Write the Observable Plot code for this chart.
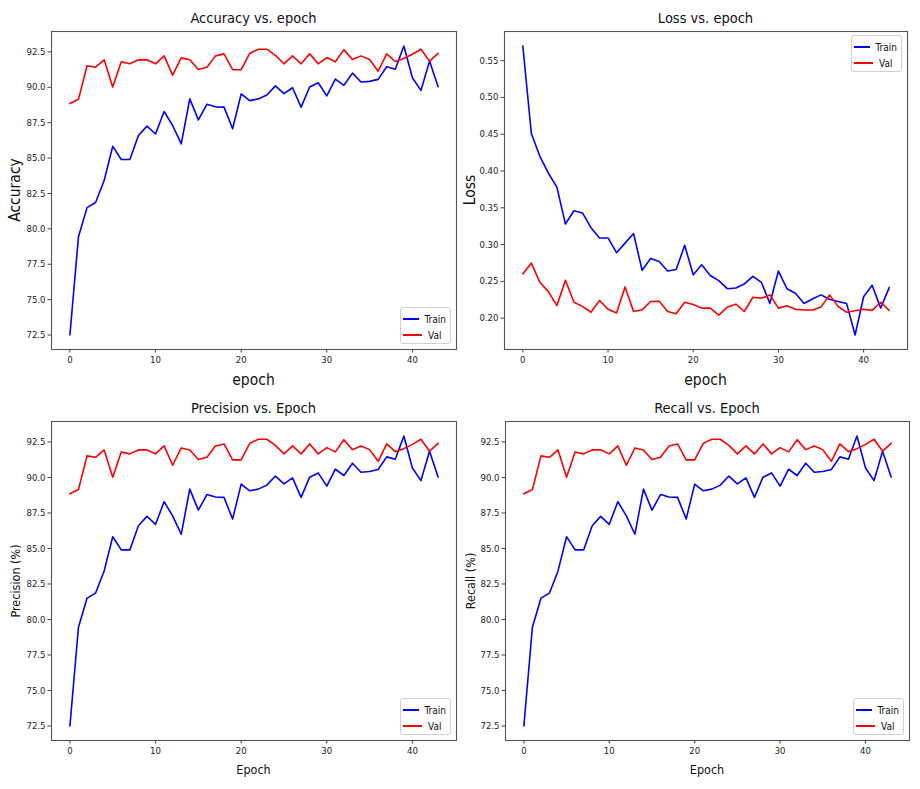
<!DOCTYPE html>
<html>
<head>
<meta charset="utf-8">
<script src="https://cdn.jsdelivr.net/npm/d3@7"></script>
<script src="https://cdn.jsdelivr.net/npm/@observablehq/plot@0.6"></script>
<style>
  html, body { margin: 0; padding: 0; background: #fff; }
  #fig { position: relative; width: 920px; height: 789px; overflow: hidden;
         font-family: "DejaVu Sans Condensed", "DejaVu Sans", sans-serif; font-stretch: condensed; color: #111; }
  .panel { position: absolute; }
  .txt { position: absolute; white-space: nowrap; transform: translate(-50%, -50%); line-height: 1; }
  .rot { transform: translate(-50%, -50%) rotate(-90deg); }
  .legend { position: absolute; border: 1px solid #d0d0d0; border-radius: 3px; background: rgba(255,255,255,0.85);
            font-size: 10px; box-sizing: border-box; padding: 3px 4px 2px 2px; }
  .legend .row { display: flex; align-items: center; height: 16px; }
  .legend .sw { width: 19px; height: 2px; margin-right: 6px; }
</style>
</head>
<body>
<div id="fig"></div>
<script>
// ---- data ----
const accTrain = [72.5, 79.45, 81.5, 81.86, 83.42, 85.83, 84.9, 84.9, 86.6, 87.26, 86.7, 88.29, 87.3, 86.0, 89.18, 87.7, 88.8, 88.62, 88.6, 87.07, 89.53, 89.06, 89.18, 89.46, 90.1, 89.55, 89.97, 88.6, 90.02, 90.32, 89.39, 90.58, 90.14, 91.0, 90.37, 90.42, 90.56, 91.45, 91.28, 92.92, 90.67, 89.78, 91.85, 90.04];
const accVal = [88.85, 89.15, 91.52, 91.42, 91.94, 90.02, 91.8, 91.66, 91.94, 91.94, 91.66, 92.22, 90.86, 92.08, 91.94, 91.26, 91.42, 92.22, 92.36, 91.24, 91.24, 92.4, 92.69, 92.69, 92.26, 91.66, 92.22, 91.66, 92.36, 91.66, 92.1, 91.8, 92.66, 91.96, 92.22, 91.96, 91.14, 92.36, 91.82, 92.03, 92.33, 92.69, 91.85, 92.4];
const lossTrain = [0.570, 0.451, 0.420, 0.397, 0.378, 0.328, 0.346, 0.343, 0.323, 0.309, 0.309, 0.289, 0.302, 0.315, 0.265, 0.281, 0.277, 0.264, 0.266, 0.299, 0.259, 0.2725, 0.258, 0.251, 0.240, 0.241, 0.2465, 0.2568, 0.2487, 0.220, 0.264, 0.240, 0.2338, 0.220, 0.226, 0.2316, 0.2257, 0.2226, 0.220, 0.177, 0.229, 0.2446, 0.2136, 0.2415];
const lossVal = [0.260, 0.2748, 0.2487, 0.236, 0.217, 0.2514, 0.2216, 0.216, 0.208, 0.224, 0.212, 0.207, 0.2424, 0.209, 0.2113, 0.2226, 0.223, 0.209, 0.206, 0.2216, 0.2186, 0.2136, 0.2136, 0.204, 0.215, 0.219, 0.209, 0.2284, 0.227, 0.2316, 0.2136, 0.2167, 0.212, 0.211, 0.211, 0.215, 0.2316, 0.216, 0.208, 0.21, 0.212, 0.2105, 0.2216, 0.2105];
// precision and recall curves are drawn identical to accuracy in the reference
const precTrain = [72.5, 79.45, 81.5, 81.86, 83.42, 85.83, 84.9, 84.9, 86.6, 87.26, 86.7, 88.29, 87.3, 86.0, 89.18, 87.7, 88.8, 88.62, 88.6, 87.07, 89.53, 89.06, 89.18, 89.46, 90.1, 89.55, 89.97, 88.6, 90.02, 90.32, 89.39, 90.58, 90.14, 91.0, 90.37, 90.42, 90.56, 91.45, 91.28, 92.92, 90.67, 89.78, 91.85, 90.04];
const precVal = [88.85, 89.15, 91.52, 91.42, 91.94, 90.02, 91.8, 91.66, 91.94, 91.94, 91.66, 92.22, 90.86, 92.08, 91.94, 91.26, 91.42, 92.22, 92.36, 91.24, 91.24, 92.4, 92.69, 92.69, 92.26, 91.66, 92.22, 91.66, 92.36, 91.66, 92.1, 91.8, 92.66, 91.96, 92.22, 91.96, 91.14, 92.36, 91.82, 92.03, 92.33, 92.69, 91.85, 92.4];
const recTrain = [...precTrain];
const recVal = [...precVal];

const xTicks = [0, 10, 20, 30, 40];
const pctTicks = [72.5, 75.0, 77.5, 80.0, 82.5, 85.0, 87.5, 90.0, 92.5];
const lossTicks = [0.20, 0.25, 0.30, 0.35, 0.40, 0.45, 0.50, 0.55];
const seriesNames = ["Train", "Val"];
const seriesColors = ["#0000ff", "#ff0000"];

const panels = [
  {title: "Accuracy vs. epoch", xLabel: "epoch", yLabel: "Accuracy", train: accTrain, val: accVal, ticks: pctTicks, fmt: ".1f",
   box: {left: 0, top: 0, w: 460, h: 395, mL: 51, mR: 4, mT: 31, mB: 46}, labelSize: 15.5, yLabelX: 16, legend: "lower right"},
  {title: "Loss vs. epoch", xLabel: "epoch", yLabel: "Loss", train: lossTrain, val: lossVal, ticks: lossTicks, fmt: ".2f",
   box: {left: 460, top: 0, w: 460, h: 395, mL: 44, mR: 13, mT: 31, mB: 46}, labelSize: 15.5, yLabelX: 471, legend: "upper right"},
  {title: "Precision vs. Epoch", xLabel: "Epoch", yLabel: "Precision (%)", train: precTrain, val: precVal, ticks: pctTicks, fmt: ".1f",
   box: {left: 0, top: 395, w: 460, h: 394, mL: 51, mR: 4, mT: 26, mB: 49}, labelSize: 12.5, yLabelX: 16, legend: "lower right"},
  {title: "Recall vs. Epoch", xLabel: "Epoch", yLabel: "Recall (%)", train: recTrain, val: recVal, ticks: pctTicks, fmt: ".1f",
   box: {left: 460, top: 395, w: 460, h: 394, mL: 45, mR: 11, mT: 26, mB: 49}, labelSize: 12.5, yLabelX: 471, legend: "lower right"}
];

function padExtent(vals) {
  const [a, b] = d3.extent(vals);
  const p = (b - a) * 0.05;
  return [a - p, b + p];
}

const fig = document.getElementById("fig");
const FONT = '"DejaVu Sans Condensed", "DejaVu Sans", sans-serif';

function addText(str, x, y, size, rot) {
  const d = document.createElement("div");
  d.className = "txt" + (rot ? " rot" : "");
  d.textContent = str;
  d.style.left = x + "px";
  d.style.top = y + "px";
  d.style.fontSize = size + "px";
  fig.appendChild(d);
}

for (const p of panels) {
  const b = p.box;
  const epochs = p.train.map((_, i) => i);
  const rows = [];
  seriesNames.forEach((s, k) => {
    const arr = k === 0 ? p.train : p.val;
    arr.forEach((v, i) => rows.push({epoch: epochs[i], value: v, series: s}));
  });
  const chart = Plot.plot({
    width: b.w, height: b.h,
    marginLeft: b.mL, marginRight: b.mR, marginTop: b.mT, marginBottom: b.mB,
    style: {fontFamily: FONT, fontSize: "9.5px", background: "transparent", color: "#222", fontStretch: "condensed"},
    x: {domain: padExtent(epochs)},
    y: {domain: padExtent([...p.train, ...p.val])},
    color: {domain: seriesNames, range: seriesColors},
    marks: [
      Plot.axisX({ticks: xTicks, tickSize: 3.5, tickPadding: 3, tickFormat: d3.format("d"), label: null, stroke: "#444", fill: "#222"}),
      Plot.axisY({ticks: p.ticks, tickSize: 3.5, tickPadding: 2.5, tickFormat: d3.format(p.fmt), label: null, stroke: "#444", fill: "#222"}),
      Plot.line(rows, {x: "epoch", y: "value", z: "series", stroke: "series", strokeWidth: 1.6}),
      Plot.frame({stroke: "#555", strokeWidth: 1.1})
    ]
  });
  chart.classList.add("panel");
  chart.style.left = b.left + "px";
  chart.style.top = b.top + "px";
  fig.appendChild(chart);

  const fx0 = b.left + b.mL, fx1 = b.left + b.w - b.mR;
  const fy0 = b.top + b.mT, fy1 = b.top + b.h - b.mB;
  const cx = (fx0 + fx1) / 2, cy = (fy0 + fy1) / 2;
  addText(p.title, cx, fy0 - 13, 14.5, false);
  addText(p.xLabel, cx, fy1 + (p.labelSize > 13 ? 32 : 30), p.labelSize, false);
  addText(p.yLabel, p.yLabelX, cy, p.labelSize, true);

  // legend
  const lg = document.createElement("div");
  lg.className = "legend";
  const lw = 51, lh = 37;
  lg.style.width = lw + "px";
  lg.style.height = lh + "px";
  lg.style.left = (fx1 - 5 - lw) + "px";
  lg.style.top = (p.legend === "upper right" ? fy0 + 4 : fy1 - 5 - lh) + "px";
  seriesNames.forEach((s, k) => {
    const r = document.createElement("div");
    r.className = "row";
    const sw = document.createElement("span");
    sw.className = "sw";
    sw.style.background = seriesColors[k];
    const t = document.createElement("span");
    t.textContent = s;
    r.appendChild(sw); r.appendChild(t);
    lg.appendChild(r);
  });
  fig.appendChild(lg);
}
</script>
</body>
</html>
